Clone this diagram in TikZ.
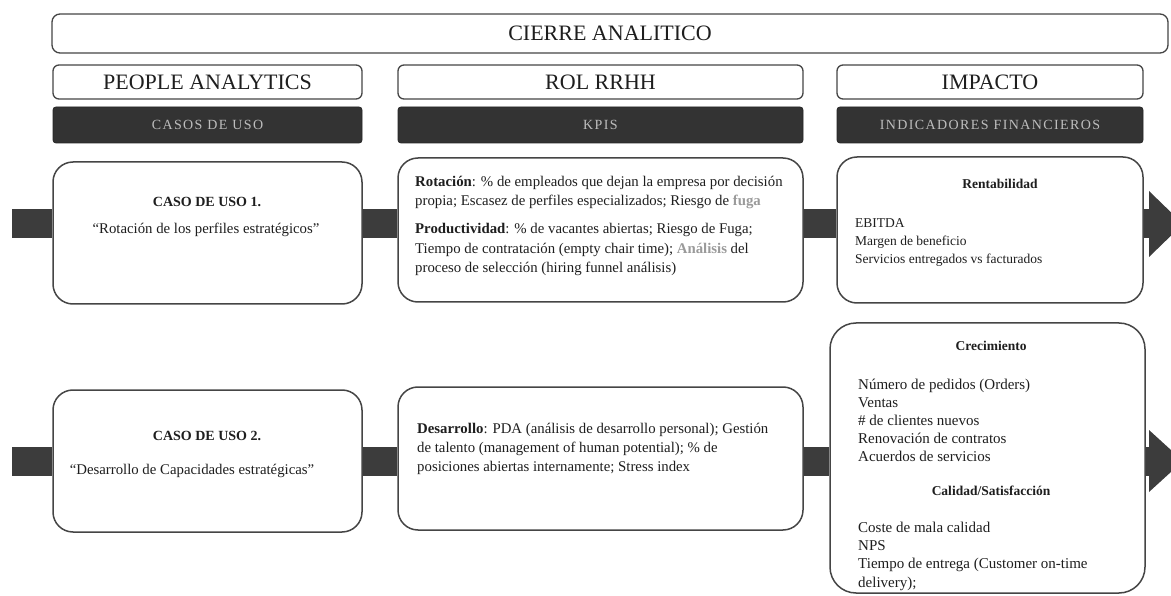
\documentclass[tikz,border=0pt]{standalone}
\usepackage{fontspec}
\setmainfont{Liberation Serif}
\newfontfamily\barfont[LetterSpace=10]{Liberation Serif}
\usetikzlibrary{calc}
\definecolor{edge}{HTML}{454545}
\definecolor{barfill}{HTML}{333333}
\definecolor{bartext}{HTML}{BDBDBD}
\definecolor{arrowfill}{HTML}{3C3C3C}
\definecolor{faint}{HTML}{9A9A9A}
\definecolor{ink}{HTML}{1E1E1E}

\begin{document}
\begin{tikzpicture}[x=1pt,y=-1pt,
  frame/.style={draw=edge, line width=1.3pt, fill=white, rounded corners=6pt, inner sep=0pt,
    text=ink, font=\fontsize{22}{26}\selectfont},
  darkbar/.style={fill=barfill, draw=black!85, line width=0.8pt, rounded corners=3pt, inner sep=0pt,
    text=bartext, font=\barfont\fontsize{14}{16}\selectfont},
  card/.style={draw=edge, line width=1.5pt, fill=white, rounded corners=20pt, inner sep=0pt},
  body/.style={font=\fontsize{14.8}{19.5}\selectfont, align=left, inner sep=0pt, text=ink},
  head/.style={font=\fontsize{13.5}{15}\selectfont\bfseries, inner sep=0pt, text=ink},
  conn/.style={draw=arrowfill, line width=29pt},
]
\useasboundingbox (0,0) rectangle (1171,596);

% row levels of the thick connectors
\coordinate (r1) at (0,224);
\coordinate (r2) at (0,461);
\coordinate (in1) at (12,224);
\coordinate (in2) at (12,461);
\coordinate (out1) at (1150,224);
\coordinate (out2) at (1150,461);

% title and column headers
\node[frame, rounded corners=8pt, minimum width=1116pt, minimum height=39pt] (top) at (610,33.5) {CIERRE ANALITICO};
\node[frame, minimum width=309pt, minimum height=34pt] (h1) at (207.5,82) {PEOPLE ANALYTICS};
\node[frame, minimum width=405pt, minimum height=34pt] (h2) at (600.5,82) {ROL RRHH};
\node[frame, minimum width=306pt, minimum height=34pt] (h3) at (990,82) {IMPACTO};

\node[darkbar, minimum width=309pt, minimum height=36pt] (d1) at (207.5,125) {CASOS DE USO};
\node[darkbar, minimum width=405pt, minimum height=36pt] (d2) at (600.5,125) {KPIS};
\node[darkbar, minimum width=306pt, minimum height=36pt] (d3) at (990,125) {INDICADORES FINANCIEROS};

% cards
\node[card, minimum width=309pt, minimum height=142pt] (caso1) at (207.5,233) {};
\node[card, minimum width=405pt, minimum height=144pt] (kpi1) at (600.5,230) {};
\node[card, minimum width=306pt, minimum height=146pt] (rent) at (990,230) {};
\node[card, minimum width=309pt, minimum height=142pt] (caso2) at (207.5,461) {};
\node[card, minimum width=405pt, minimum height=143pt] (kpi2) at (600.5,458.5) {};
\node[card, rounded corners=26pt, minimum width=315pt, minimum height=270pt] (crec) at (987.5,458) {};

% thick connectors
\draw[conn] (in1) -- (caso1.west |- r1);
\draw[conn] (caso1.east |- r1) -- (kpi1.west |- r1);
\draw[conn] (kpi1.east |- r1) -- (rent.west |- r1);
\draw[conn] (rent.east |- r1) -- (out1);
\fill[arrowfill] ($(out1)+(-1,-33)$) -- ($(out1)+(33,0)$) -- ($(out1)+(-1,33)$) -- cycle;

\draw[conn] (in2) -- (caso2.west |- r2);
\draw[conn] (caso2.east |- r2) -- (kpi2.west |- r2);
\draw[conn] (kpi2.east |- r2) -- (crec.west |- r2);
\draw[conn] (crec.east |- r2) -- (out2);
\fill[arrowfill] ($(out2)+(-1,-31)$) -- ($(out2)+(33,0)$) -- ($(out2)+(-1,31)$) -- cycle;

% texts of the first row
\node[head, font=\fontsize{14}{16}\selectfont\bfseries] (c1t) at (207,202) {CASO DE USO 1.};
\node[body] (c1q) at (206,230) {“Rotación de los perfiles estratégicos”};

\node[body, anchor=north west] (k1t) at (415,176) {%
\textbf{Rotación}: \% de empleados que dejan la empresa por decisión\\
propia; Escasez de perfiles especializados; Riesgo de \textcolor{faint}{\textbf{fuga}}\\[8.5pt]
\textbf{Productividad}: \% de vacantes abiertas; Riesgo de Fuga;\\
Tiempo de contratación (empty chair time); \textcolor{faint}{\textbf{Análisis}} del\\
proceso de selección (hiring funnel análisis)};

\node[head] (rt) at (1000,184) {Rentabilidad};
\node[body, anchor=north west, font=\fontsize{13.5}{18}\selectfont] (rl) at (855,218) {%
EBITDA\\
Margen de beneficio\\
Servicios entregados vs facturados};

% texts of the second row
\node[head, font=\fontsize{14}{16}\selectfont\bfseries] (c2t) at (207,436) {CASO DE USO 2.};
\node[body] (c2q) at (192,471) {“Desarrollo de Capacidades estratégicas”};

\node[body, anchor=north west, font=\fontsize{14.8}{19}\selectfont] (k2t) at (417,423) {%
\textbf{Desarrollo}: PDA (análisis de desarrollo personal); Gestión\\
de talento (management of human potential); \% de\\
posiciones abiertas internamente; Stress index};

\node[head] (ct) at (991,346) {Crecimiento};
\node[body, anchor=north west, font=\fontsize{15}{18.2}\selectfont] (cl) at (858,378.5) {%
Número de pedidos (Orders)\\
Ventas\\
\# de clientes nuevos\\
Renovación de contratos\\
Acuerdos de servicios};
\node[head] (qt) at (991,491) {Calidad/Satisfacción};
\node[body, anchor=north west, font=\fontsize{15}{18.3}\selectfont] (ql) at (858,521.5) {%
Coste de mala calidad\\
NPS\\
Tiempo de entrega (Customer on-time\\
delivery);};
\end{tikzpicture}
\end{document}
